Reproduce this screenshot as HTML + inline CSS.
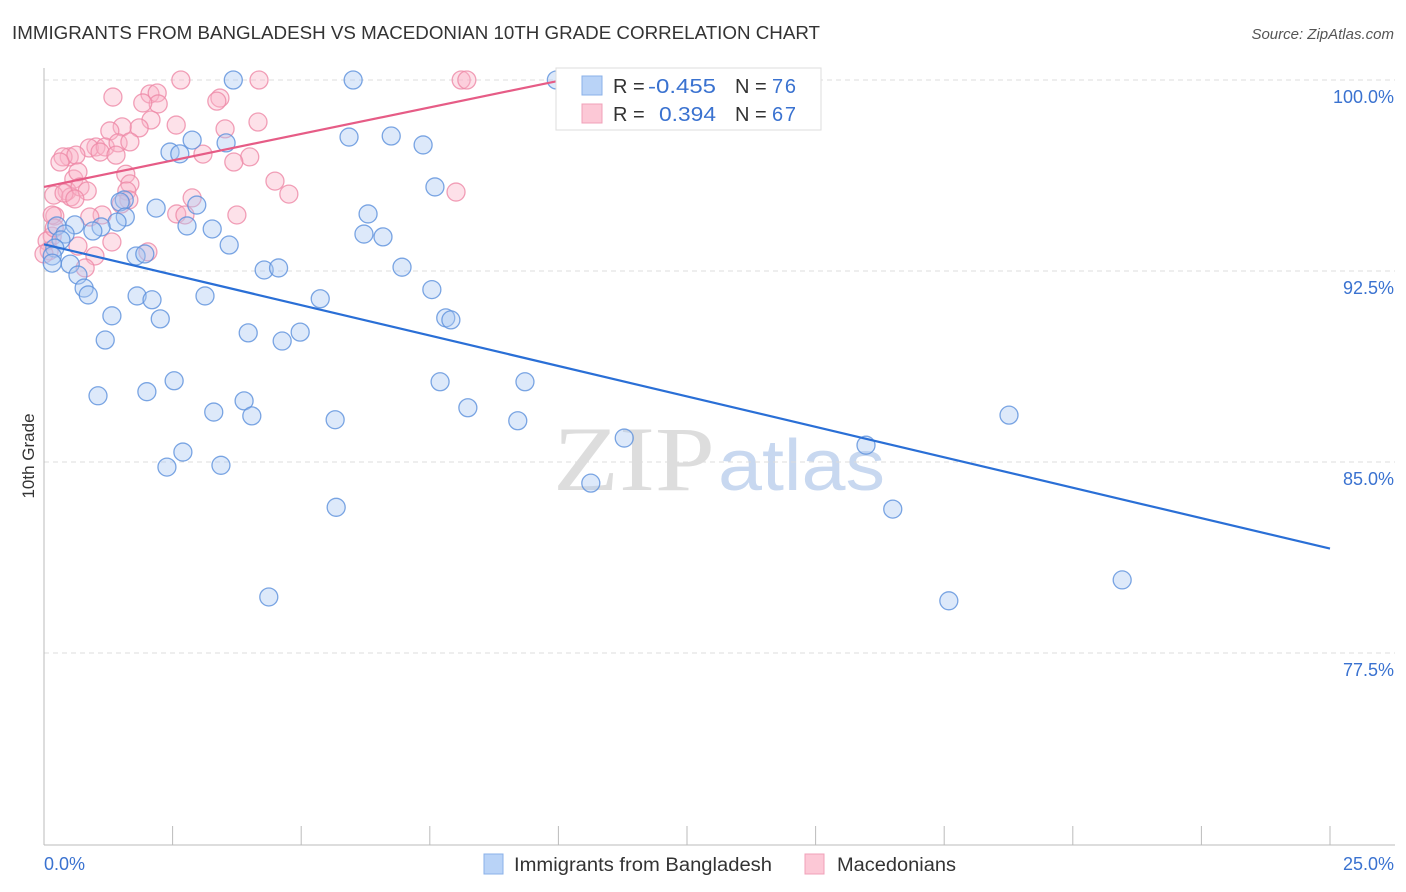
<!DOCTYPE html>
<html><head><meta charset="utf-8"><style>
body{margin:0;background:#fff;font-family:"Liberation Sans",sans-serif;}
#wrap{position:relative;width:1406px;height:892px;overflow:hidden}
</style></head><body>
<div id="wrap">
<svg id="svg" width="1406" height="892" xmlns="http://www.w3.org/2000/svg">
<text x="12" y="39" font-size="18" fill="#333" textLength="808" lengthAdjust="spacingAndGlyphs">IMMIGRANTS FROM BANGLADESH VS MACEDONIAN 10TH GRADE CORRELATION CHART</text>
<text x="1394" y="39" font-size="15" fill="#555" font-style="italic" text-anchor="end">Source: ZipAtlas.com</text>
<text x="34" y="456" font-size="17" fill="#333" transform="rotate(-90 34 456)" text-anchor="middle">10th Grade</text>
<g><text x="553" y="490" font-size="92" fill="#ddd" font-family="Liberation Serif,serif" textLength="162" lengthAdjust="spacingAndGlyphs">ZIP</text><text x="718" y="490" font-size="72" fill="#c8d8f0" textLength="167" lengthAdjust="spacingAndGlyphs">atlas</text></g>
<g id="grid"></g><g id="pts"></g><g id="lines"></g>
<g>
<rect x="556" y="68" width="265" height="62" fill="#fff" stroke="#ddd"/>
<rect x="582" y="76" width="20" height="19" fill="#b9d3f7" stroke="#8ab0e8"/>
<rect x="582" y="104" width="20" height="19" fill="#fcc8d6" stroke="#f0a0b8"/>
<text x="613" y="93" font-size="20" fill="#333">R =</text><text x="648" y="93" font-size="20" fill="#3a72d0" textLength="68" lengthAdjust="spacingAndGlyphs">-0.455</text>
<text x="735" y="93" font-size="20" fill="#333">N =</text><text x="772" y="93" font-size="20" fill="#3a72d0" textLength="24">76</text>
<text x="613" y="121" font-size="20" fill="#333">R =</text><text x="659" y="121" font-size="20" fill="#3a72d0" textLength="57" lengthAdjust="spacingAndGlyphs">0.394</text>
<text x="735" y="121" font-size="20" fill="#333">N =</text><text x="772" y="121" font-size="20" fill="#3a72d0" textLength="24">67</text>
</g>
<text x="44" y="870" font-size="18" fill="#3a72d0">0.0%</text>
<text x="1394" y="870" font-size="18" fill="#3a72d0" text-anchor="end">25.0%</text>
<g>
<rect x="484" y="854" width="19" height="20" fill="#b9d3f7" stroke="#8ab0e8"/>
<text x="514" y="871" font-size="19" fill="#333" textLength="258" lengthAdjust="spacingAndGlyphs">Immigrants from Bangladesh</text>
<rect x="805" y="854" width="19" height="20" fill="#fcc8d6" stroke="#f0a0b8"/>
<text x="837" y="871" font-size="19" fill="#333" textLength="119" lengthAdjust="spacingAndGlyphs">Macedonians</text>
</g>
</svg></div>
<script>
const yTicks=[100,92.5,85,77.5];
const yTickLabels=["100.0%","92.5%","85.0%","77.5%"];
const blueX=[3.68,6.01,9.96,5.93,6.75,7.37,2.88,2.45,2.64,3.54,7.6,1.56,2.18,2.97,1.48,6.3,1.58,1.42,0.6,1.11,0.95,2.78,3.27,6.22,6.59,3.6,0.25,0.41,0.33,0.21,0.16,0.16,1.79,1.96,0.51,0.66,4.28,4.56,6.96,0.78,0.86,1.81,2.1,3.13,5.37,7.54,1.32,2.26,7.81,7.91,3.97,4.98,4.63,1.19,2.53,2.0,1.05,7.7,9.35,3.89,3.3,4.04,8.24,5.66,9.21,11.28,2.7,2.39,3.44,15.98,18.76,5.68,10.63,16.5,20.96,4.37,17.59];
const blueY=[100,100,100,97.76,97.8,97.45,97.64,97.17,97.1,97.53,95.8,95.29,94.97,95.09,95.21,94.74,94.62,94.42,94.31,94.23,94.07,94.27,94.15,93.95,93.84,93.52,94.27,93.95,93.72,93.4,93.09,92.81,93.09,93.17,92.77,92.34,92.54,92.62,92.65,91.83,91.56,91.52,91.37,91.52,91.41,91.77,90.74,90.62,90.66,90.58,90.07,90.1,89.75,89.79,88.19,87.76,87.6,88.15,88.15,87.4,86.96,86.81,87.13,86.66,86.62,85.94,85.39,84.8,84.87,85.66,86.84,83.22,84.17,83.15,80.37,79.7,79.55];
const pinkX=[2.66,4.18,8.11,8.22,1.34,2.06,2.2,3.42,3.36,2.22,1.92,2.08,4.16,2.57,3.52,1.85,1.52,1.28,1.01,0.88,1.19,1.44,1.67,0.49,0.37,0.62,0.31,1.09,1.4,3.09,4.0,3.69,0.58,0.66,0.45,0.19,0.52,0.39,0.7,0.84,0.6,0.21,1.59,1.67,1.61,4.49,4.76,2.88,2.58,2.74,3.75,8.01,0.16,1.13,0.89,1.65,1.5,1.32,2.02,0.66,0.99,0.8,0.16,0.06,0.1,0.0,0.2];
const pinkY=[100,100,100,100,99.33,99.45,99.49,99.29,99.17,99.06,99.1,98.43,98.35,98.23,98.08,98.12,98.16,98.0,97.37,97.33,97.37,97.53,97.57,96.98,96.98,97.05,96.78,97.17,97.05,97.09,96.98,96.78,96.11,96.39,95.64,95.48,95.41,95.56,95.8,95.64,95.33,94.66,96.3,95.92,95.64,96.03,95.52,95.37,94.74,94.7,94.7,95.6,94.7,94.7,94.62,95.29,95.13,93.64,93.25,93.48,93.09,92.62,93.87,93.68,93.29,93.17,94.19];
const blueLine=[[0,93.55],[25,81.6]];
const pinkLine=[[0,95.8],[9.96,99.95]];
const X=v=>44+v/25*1286, Y=v=>80+(100-v)/7.5*191;
const NS="http://www.w3.org/2000/svg";
function mk(t,a,p){const e=document.createElementNS(NS,t);for(const k in a)e.setAttribute(k,a[k]);p.appendChild(e);return e;}
const grid=document.getElementById('grid');
yTicks.forEach((t,i)=>{
 const l=mk('line',{x1:44,x2:1395,y1:Y(t),y2:Y(t),stroke:'#ddd','stroke-dasharray':'5,4'},grid);
 
 
 const tx=mk('text',{x:1394,y:Y(t)+23,'font-size':18,fill:'#3a72d0','text-anchor':'end'},grid);
 tx.textContent=yTickLabels[i];
 
 
});
const ax=mk('line',{x1:44,x2:44,y1:68,y2:845,stroke:'#bbb'},grid);


const bx=mk('line',{x1:44,x2:1395,y1:845,y2:845,stroke:'#bbb'},grid);


for(let k=0;k<=10;k++){const t=mk('line',{x1:X(k*2.5),x2:X(k*2.5),y1:826,y2:845,stroke:'#bbb'},grid);
 
 }
const pts=document.getElementById('pts');
function draw(xs,ys,fill,stroke,name){xs.forEach((x,i)=>{const c=mk('circle',{cx:X(x),cy:Y(ys[i]),r:9,fill:fill,'fill-opacity':0.4,stroke:stroke,'stroke-width':1.3,'stroke-opacity':0.8},pts);
 
 });}
draw(pinkX,pinkY,'#f9b4c8','#ee88a6','macedonian-point');
draw(blueX,blueY,'#a9c9f3','#5b90dc','bangladesh-point');
const lines=document.getElementById('lines');
const b=mk('line',{x1:X(blueLine[0][0]),y1:Y(blueLine[0][1]),x2:X(blueLine[1][0]),y2:Y(blueLine[1][1]),stroke:'#2a6fd6','stroke-width':2.2},lines);


const p=mk('line',{x1:X(pinkLine[0][0]),y1:Y(pinkLine[0][1]),x2:X(pinkLine[1][0]),y2:Y(pinkLine[1][1]),stroke:'#e65c86','stroke-width':2.2},lines);


</script>
</body></html>
